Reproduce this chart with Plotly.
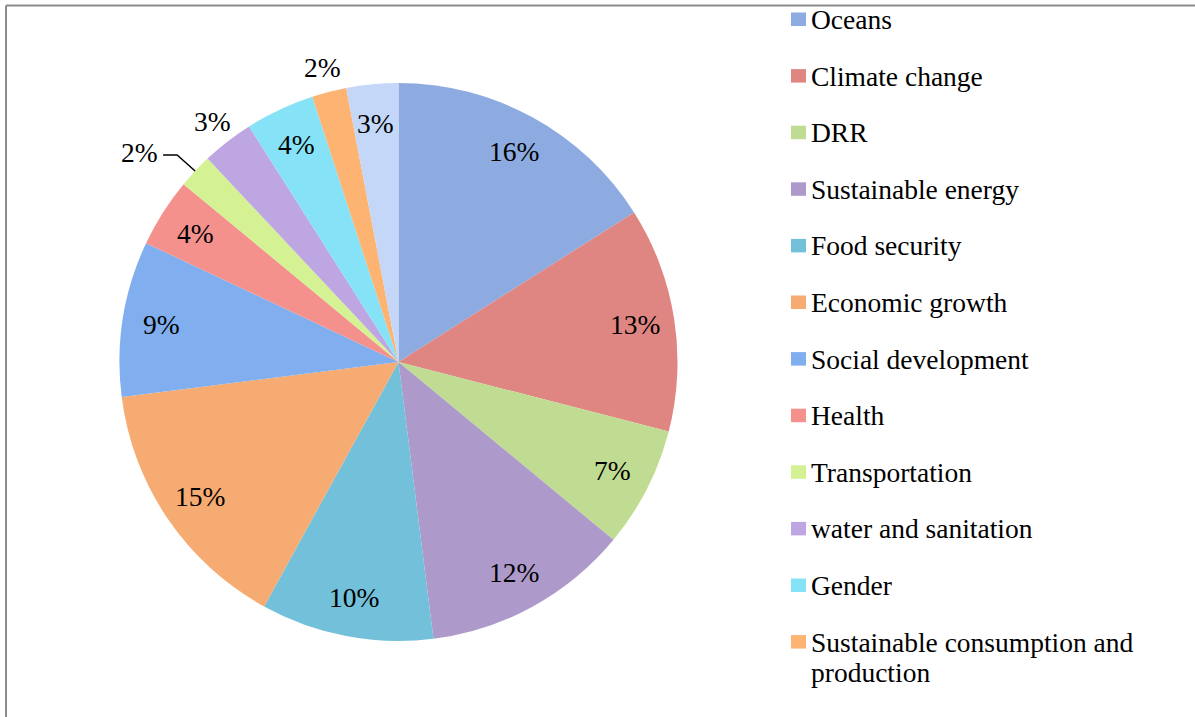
import math
import plotly.graph_objects as go

# Share of initiatives by theme (percent)
labels = [
    "Oceans", "Climate change", "DRR", "Sustainable energy", "Food security",
    "Economic growth", "Social development", "Health", "Transportation",
    "water and sanitation", "Gender", "Sustainable consumption and production",
    "Other",
]
values = [16, 13, 7, 12, 10, 15, 9, 4, 2, 3, 4, 2, 3]
colors = [
    "#8dabe0", "#e08682", "#c0dc92", "#ad9acb", "#72c0d9", "#f6ab72",
    "#80aeee", "#f5918c", "#d4f293", "#bea6e2", "#86e2f7", "#fdb472",
    "#c4d7f8",
]
# where each data label sits: inside the slice, just outside, or outside with a leader
label_mode = ["in"] * 8 + ["leader", "out", "in", "out", "in"]

FONT = "Liberation Serif"
FS = 27.5
W, H = 1195, 717

# pie placement in pixels
CX, CY, R = 398.5, 362.0, 279.0
dom_x = [(CX - R) / W, (CX + R) / W]
dom_y = [1 - (CY + R) / H, 1 - (CY - R) / H]

fig = go.Figure(
    go.Pie(
        labels=labels,
        values=values,
        sort=False,
        direction="clockwise",
        rotation=0,
        marker=dict(colors=colors, line=dict(width=0)),
        textinfo="none",
        showlegend=False,
        domain=dict(x=dom_x, y=dom_y),
        hoverinfo="label+percent",
    )
)


def px(x):
    return x / W


def py(y):
    return 1 - y / H


shapes = []
annotations = []

# Data labels placed along each slice's mid-angle
total = sum(values)
cum = 0.0
for v, mode in zip(values, label_mode):
    theta = math.radians((cum + v / 2) / total * 360)
    cum += v
    s, c = math.sin(theta), math.cos(theta)
    txt = f"{v}%"
    if mode == "leader":
        ex, ey = CX + R * s, CY - R * c
        bx, by = ex - 18, ey - 16
        lx = bx - 14
        shapes.append(dict(
            type="path", xref="paper", yref="paper",
            path=f"M {px(ex)},{py(ey)} L {px(bx)},{py(by)} L {px(lx)},{py(by)}",
            line=dict(color="#000000", width=1.5),
        ))
        annotations.append(dict(
            xref="paper", yref="paper", x=px(lx - 3), y=py(by - 3),
            xanchor="right", yanchor="middle", text=txt, showarrow=False,
            font=dict(family=FONT, size=FS, color="#000000"),
        ))
        continue
    rf = 0.86 if mode == "in" else 1.09
    annotations.append(dict(
        xref="paper", yref="paper",
        x=px(CX + rf * R * s), y=py(CY - rf * R * c),
        xanchor="center", yanchor="middle", text=txt, showarrow=False,
        font=dict(family=FONT, size=FS, color="#000000"),
    ))

# Legend drawn as swatches + labels; the box only fits twelve rows
legend_lines = [[n] for n in labels[:12]]
legend_lines[11] = ["Sustainable consumption and", "production"]
row0, step, line_gap = 19.5, 56.6, 30.0
for i, (lines, col) in enumerate(zip(legend_lines, colors)):
    yc = row0 + i * step
    shapes.append(dict(
        type="rect", xref="paper", yref="paper",
        x0=px(791), x1=px(806), y0=py(yc + 6.5), y1=py(yc - 7),
        fillcolor=col, line=dict(width=0),
    ))
    for j, line in enumerate(lines):
        annotations.append(dict(
            xref="paper", yref="paper", x=px(809), y=py(yc + j * line_gap),
            xanchor="left", yanchor="middle", text=line, showarrow=False,
            align="left", font=dict(family=FONT, size=FS, color="#000000"),
        ))

# Frame edges along the top and left
shapes.append(dict(type="line", xref="paper", yref="paper",
                   x0=px(6), x1=1, y0=py(5.5), y1=py(5.5),
                   line=dict(color="#8c8c8c", width=2)))
shapes.append(dict(type="line", xref="paper", yref="paper",
                   x0=px(6), x1=px(6), y0=0, y1=py(5.5),
                   line=dict(color="#8c8c8c", width=2)))

fig.update_layout(
    width=W, height=H,
    margin=dict(l=0, r=0, t=0, b=0),
    paper_bgcolor="#ffffff",
    plot_bgcolor="#ffffff",
    shapes=shapes,
    annotations=annotations,
    font=dict(family=FONT),
)

fig.write_html("out.html")
